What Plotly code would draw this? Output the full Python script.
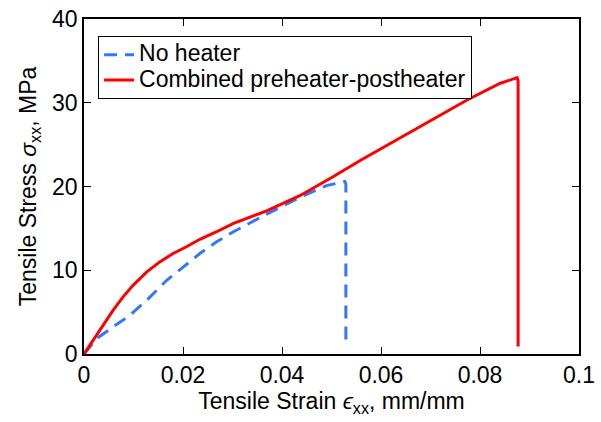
import plotly.graph_objects as go

# No heater (blue dashed)
strain_noheater = [0.0, 0.0026, 0.0059, 0.0093, 0.0127, 0.0167, 0.0201, 0.0234, 0.0268, 0.0302,
                   0.0369, 0.0436, 0.0490, 0.0517, 0.0527, 0.0529, 0.0529]
stress_noheater = [0.0, 1.87, 3.25, 4.64, 6.43, 8.8, 10.4, 12.0, 13.4, 14.6,
                   16.7, 18.7, 20.1, 20.5, 20.6, 20.3, 1.5]

# Combined preheater-postheater (red solid)
strain_combined = [0.0, 0.0019, 0.0039, 0.0059, 0.0079, 0.0099, 0.0127, 0.0153, 0.0180, 0.0207,
                   0.0234, 0.0268, 0.0302, 0.0369, 0.0436, 0.0470, 0.0504, 0.0558, 0.0638, 0.0706,
                   0.0773, 0.0840, 0.0866, 0.0875, 0.0877, 0.0877]
stress_combined = [0.0, 1.67, 3.45, 5.24, 6.82, 8.2, 9.8, 11.0, 12.0, 12.8,
                   13.7, 14.6, 15.6, 17.1, 18.9, 20.0, 21.2, 23.1, 25.8, 28.1,
                   30.3, 32.3, 32.8, 33.0, 32.6, 0.9]

x_ticks = [0, 0.02, 0.04, 0.06, 0.08, 0.1]
x_ticklabels = ["0", "0.02", "0.04", "0.06", "0.08", "0.1"]
y_ticks = [0, 10, 20, 30, 40]
series_names = ["No heater", "Combined preheater-postheater"]

FONT = "Liberation Sans, Arial, sans-serif"
FS = 23

def big(s):
    return '<span style="font-size:23px">' + s + '</span>'

fig = go.Figure()
fig.add_trace(go.Scatter(
    x=strain_noheater, y=stress_noheater, mode="lines", name=big(series_names[0]),
    line=dict(color="#3377FF", width=3, dash="13px,8px"),
))
fig.add_trace(go.Scatter(
    x=strain_combined, y=stress_combined, mode="lines", name=big(series_names[1]),
    line=dict(color="#FF0000", width=3),
))

axis_common = dict(
    showline=True, linecolor="black", linewidth=1.5, mirror="ticks",
    ticks="inside", ticklen=7, tickwidth=1.2, tickcolor="black",
    showgrid=False, zeroline=False, automargin=False,
    tickfont=dict(family=FONT, size=FS, color="black"),
)

fig.update_layout(
    width=601, height=422,
    margin=dict(l=84, r=22, t=19, b=68),
    paper_bgcolor="white", plot_bgcolor="white",
    font=dict(family=FONT, size=FS, color="black"),
    xaxis=dict(range=[0, 0.1], tickvals=x_ticks, ticktext=x_ticklabels,
               title=dict(text="Tensile Strain <i>ϵ</i><sub>xx</sub>, mm/mm",
                          font=dict(family=FONT, size=FS), standoff=2),
               **axis_common),
    yaxis=dict(range=[0, 40], tickvals=y_ticks,
               title=dict(text="Tensile Stress <i>σ</i><sub>xx</sub>, MPa",
                          font=dict(family=FONT, size=FS), standoff=9),
               **axis_common),
    legend=dict(x=0.028, y=0.949, xanchor="left", yanchor="top",
                bgcolor="white", bordercolor="black", borderwidth=1.2,
                font=dict(family=FONT, size=17), tracegroupgap=0,
                itemwidth=30),
    showlegend=True,
)

fig.write_html("out.html", config={"displayModeBar": False},
               post_script="document.body.style.margin='0px';document.body.style.overflow='hidden';")
